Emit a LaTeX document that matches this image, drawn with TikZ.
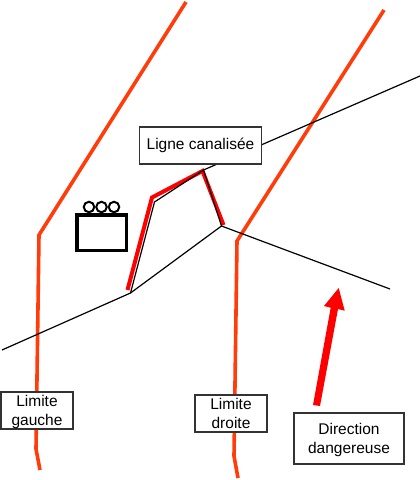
\documentclass[tikz,border=0pt]{standalone}
\usepackage{fontspec}
\setmainfont{Liberation Sans}
\definecolor{limcol}{RGB}{255,60,10}
\newcommand{\abaisse}{\rule{0pt}{15pt}}
\tikzset{
 limite/.style={draw=limcol,line width=3.6pt},
 fil/.style={draw=black,line width=1.2pt},
 rouge/.style={draw=red,line width=4pt},
 etiq/.style={draw=black!80,fill=white,line width=1.3pt,align=center,inner sep=0pt,font=\fontsize{15.5}{19}\selectfont},
 roue/.style={draw=black,fill=white,line width=2pt,circle,minimum size=10.5pt,inner sep=0pt}
}
\begin{document}
\begin{tikzpicture}[x=1pt,y=-1pt]
\useasboundingbox (0,0) rectangle (420,480);
\coordinate (l1) at (186,2);\coordinate (l2) at (39,235);\coordinate (l3) at (36,449);\coordinate (l4) at (40,470);
\coordinate (r1) at (384,10);\coordinate (r2) at (237,241);\coordinate (r3) at (234,456);\coordinate (r4) at (238,478);
\coordinate (a) at (2,350);\coordinate (b) at (130.5,293);\coordinate (c) at (221.5,226);\coordinate (d) at (390,289);
\coordinate (e) at (154.5,202);\coordinate (f) at (203.5,170);\coordinate (g) at (420,76);
\coordinate (r0) at (127.5,290);\coordinate (ra) at (152,197.5);\coordinate (rb) at (202.5,171);\coordinate (rc) at (223.5,225);
\draw[limite] (l1)--(l2)--(l3)--(l4);
\draw[limite] (r1)--(r2)--(r3)--(r4);
\draw[fil] (a)--(b)--(c)--(d);
\draw[rouge,line join=miter] (r0)--(ra)--(rb)--(rc);
\draw[fil] (b)--(e)--(f)--(c);
\draw[fil] (f)--(g);
\fill[red] (313,405)--(320,406)--(338,309)--(344.7,310.7)--(338.7,288)--(324,306)--(330.7,307.7)--cycle;
\node[etiq,minimum width=122pt,minimum height=37pt] (lc) at (200.5,145.5) {Ligne canalisée};
\node[etiq,minimum width=72pt,minimum height=37pt] (lg) at (37,410.5) {\abaisse Limite\\gauche};
\node[etiq,minimum width=72pt,minimum height=37pt] (ld) at (231,413.5) {Limite\\droite};
\node[etiq,minimum width=110pt,minimum height=51pt] (dd) at (349,438.5) {\abaisse Direction\\dangereuse};
\node[draw=black,line width=3.5pt,minimum width=49.5pt,minimum height=35.5pt,inner sep=0pt] (bat) at (101.5,232.5) {};
\node[roue] (w1) at (89,207) {};
\node[roue] (w2) at (101.5,207) {};
\node[roue] (w3) at (114,207) {};
\end{tikzpicture}
\end{document}
